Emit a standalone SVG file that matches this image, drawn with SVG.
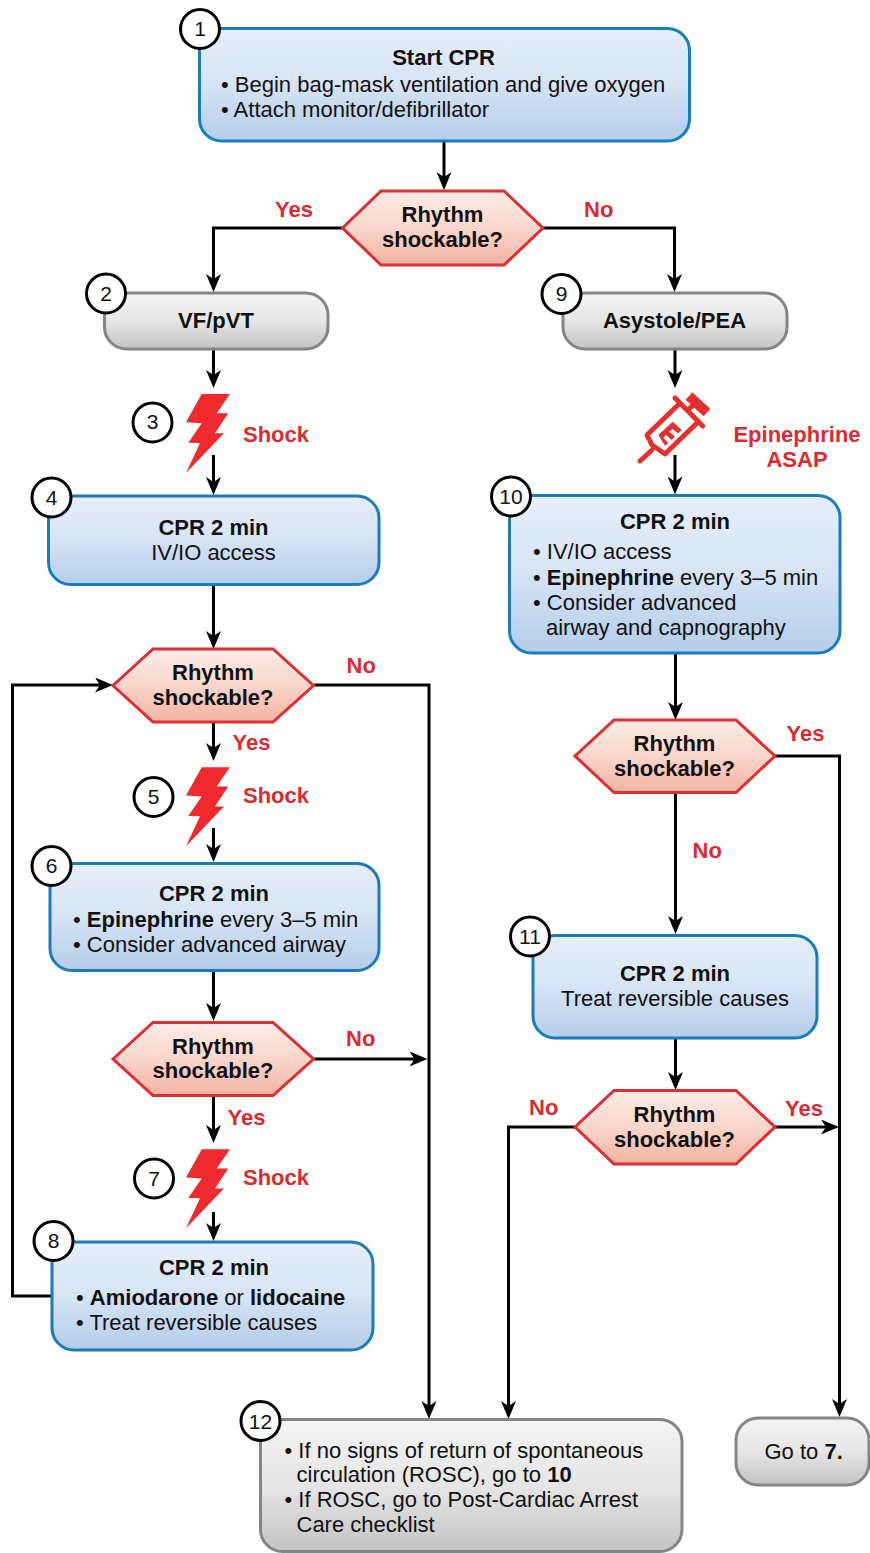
<svg xmlns="http://www.w3.org/2000/svg" width="870" height="1553" viewBox="0 0 870 1553">
<style>
text{font-family:"Liberation Sans",Arial,sans-serif;font-size:22px;fill:#111}
.b{font-weight:700}
.c{text-anchor:middle}
.r{font-weight:700;fill:#dd2a30}
.blue{fill:url(#gb);stroke:#1a7dbb;stroke-width:3}
.gray{fill:url(#gg);stroke:#858585;stroke-width:3}
.hex{fill:url(#gr);stroke:#dc2e33;stroke-width:3}
.num{fill:#fff;stroke:#000;stroke-width:3}
.con{fill:none;stroke:#000;stroke-width:3}
.bolt{fill:#ee2a2e}
.syr{fill:none;stroke:#e5302f;stroke-width:5;stroke-linecap:round;stroke-linejoin:round}
.digit{font-size:21px}
</style>
<defs>
<linearGradient id="gb" x1="0" y1="0" x2="0" y2="1"><stop offset="0" stop-color="#e6effa"/><stop offset=".5" stop-color="#d6e4f5"/><stop offset="1" stop-color="#b4cdea"/></linearGradient>
<linearGradient id="gg" x1="0" y1="0" x2="0" y2="1"><stop offset="0" stop-color="#f4f4f4"/><stop offset=".5" stop-color="#e6e6e6"/><stop offset="1" stop-color="#c3c3c3"/></linearGradient>
<linearGradient id="gr" x1="0" y1="0" x2="0" y2="1"><stop offset="0" stop-color="#fdece6"/><stop offset=".5" stop-color="#fad6cb"/><stop offset="1" stop-color="#f3b3a3"/></linearGradient>
<marker id="a" markerUnits="userSpaceOnUse" markerWidth="19" markerHeight="16" refX="14" refY="7.5" orient="auto"><path d="M0 0L18 7.5L0 15L5 7.5Z" fill="#000"/></marker>
<path id="bolt" d="M201.7 394H230L216.7 413.3H228.3L215 433.3H224L186 473L200 443L188.3 442.7L201.7 423.3L186 422.3Z"/>
</defs>
<g id="connectors" class="con">
<path marker-end="url(#a)" d="M444 141V186"/>
<path marker-end="url(#a)" d="M343 228H213.5V288"/>
<path marker-end="url(#a)" d="M543 228H674.5V288"/>
<path marker-end="url(#a)" d="M213.5 349V384"/>
<path marker-end="url(#a)" d="M213.5 455V491"/>
<path marker-end="url(#a)" d="M213.5 584V645"/>
<path marker-end="url(#a)" d="M314 685H429V1415"/>
<path marker-end="url(#a)" d="M52 1296H12.5V685H109"/>
<path marker-end="url(#a)" d="M213.5 722V757"/>
<path marker-end="url(#a)" d="M213.5 828V858"/>
<path marker-end="url(#a)" d="M213.5 970V1017"/>
<path marker-end="url(#a)" d="M314 1059H423.5"/>
<path marker-end="url(#a)" d="M213.5 1096V1139"/>
<path marker-end="url(#a)" d="M213.5 1212V1237"/>
<path marker-end="url(#a)" d="M675 349V384"/>
<path marker-end="url(#a)" d="M675 455V490.5"/>
<path marker-end="url(#a)" d="M675.5 653V716"/>
<path marker-end="url(#a)" d="M775 756H839.5V1413"/>
<path marker-end="url(#a)" d="M675.5 793V930"/>
<path marker-end="url(#a)" d="M675.5 1038V1086"/>
<path marker-end="url(#a)" d="M575 1127H508.5V1415"/>
<path marker-end="url(#a)" d="M775 1127H835"/>
</g>
<g id="n1"><rect class="blue" x="199.5" y="28.5" width="490" height="112.5" rx="22"/><circle class="num" cx="200" cy="29" r="19.5"/><text class="c digit" x="200" y="36">1</text>
<text class="b c" x="443.5" y="65">Start CPR</text><text x="221" y="91.5">• Begin bag-mask ventilation and give oxygen</text><text x="221" y="116.5">• Attach monitor/defibrillator</text></g>
<g id="d1"><polygon class="hex" points="342.5,228 381,191 504,191 543,228 504,265 381,265"/><text class="b c" x="442.5" y="221.5">Rhythm</text><text class="b c" x="442.5" y="246.5">shockable?</text></g>
<text class="r" x="275" y="216.5">Yes</text><text class="r" x="584" y="216.5">No</text>
<g id="n2"><rect class="gray" x="104.5" y="293" width="223.5" height="56" rx="22"/><circle class="num" cx="106" cy="293.5" r="19.5"/><text class="c digit" x="106" y="301">2</text><text class="b c" x="216" y="328">VF/pVT</text></g>
<g id="n9"><rect class="gray" x="563" y="293" width="224" height="56" rx="22"/><circle class="num" cx="561.5" cy="294" r="19.5"/><text class="c digit" x="561.5" y="301">9</text><text class="b c" x="674.5" y="328">Asystole/PEA</text></g>
<g id="n3"><use href="#bolt" class="bolt"/><circle class="num" cx="152.5" cy="422.5" r="19.5"/><text class="c digit" x="152.5" y="429">3</text><text class="r" x="243" y="441.5">Shock</text></g>
<g id="n4"><rect class="blue" x="48.5" y="496" width="330.5" height="88.5" rx="22"/><circle class="num" cx="51.5" cy="497.5" r="19.5"/><text class="c digit" x="51.5" y="505">4</text><text class="b c" x="213.5" y="535">CPR 2 min</text><text class="c" x="213.5" y="560">IV/IO access</text></g>
<g id="d2"><polygon class="hex" points="113,685.5 153,649 273,649 313.5,685.5 273,722 153,722"/><text class="b c" x="213" y="680">Rhythm</text><text class="b c" x="213" y="704.5">shockable?</text></g>
<text class="r" x="346.5" y="672.5">No</text><text class="r" x="232.5" y="750">Yes</text>
<g id="n5"><use href="#bolt" class="bolt" y="373.3"/><circle class="num" cx="153.5" cy="797" r="19.5"/><text class="c digit" x="153.5" y="804">5</text><text class="r" x="243" y="803">Shock</text></g>
<g id="n6"><rect class="blue" x="50" y="863.5" width="329" height="107" rx="22"/><circle class="num" cx="51.5" cy="866" r="19.5"/><text class="c digit" x="51.5" y="873">6</text><text class="b c" x="214" y="901">CPR 2 min</text><text x="73" y="926.5">• <tspan class="b">Epinephrine</tspan> every 3–5 min</text><text x="73" y="951.5">• Consider advanced airway</text></g>
<g id="d3"><polygon class="hex" points="113,1059 153,1022.5 273,1022.5 313.5,1059 273,1095.5 153,1095.5"/><text class="b c" x="213" y="1053.5">Rhythm</text><text class="b c" x="213" y="1078">shockable?</text></g>
<text class="r" x="346" y="1045.5">No</text><text class="r" x="227.5" y="1125">Yes</text>
<g id="n7"><use href="#bolt" class="bolt" y="755.3"/><circle class="num" cx="154" cy="1178.5" r="19.5"/><text class="c digit" x="154" y="1185.5">7</text><text class="r" x="243" y="1185">Shock</text></g>
<g id="n8"><rect class="blue" x="52" y="1242" width="321" height="108" rx="22"/><circle class="num" cx="53.5" cy="1241" r="19.5"/><text class="c digit" x="53.5" y="1248">8</text><text class="b c" x="214" y="1274.5">CPR 2 min</text><text x="76" y="1305">• <tspan class="b">Amiodarone</tspan> or <tspan class="b">lidocaine</tspan></text><text x="76" y="1330">• Treat reversible causes</text></g>
<g id="syringe"><path class="syr" d="M675 398L702.7 426M679 404L647 435L652 445L665 454L698 422M690 408L695 404M640 461L652 450"/><path class="syr" style="stroke-width:10;stroke-linecap:butt" d="M689 396L707 412.7"/><path fill="#e5302f" d="M658.3 435L672.7 421.7L681.7 430L677.7 433.3L672.7 429L669.3 431.7L675 436.7L671.7 440L666 435L663.3 437.7L668.3 443.3L665 445.7Z"/><text class="r c" x="797" y="441.5">Epinephrine</text><text class="r c" x="797" y="466.5">ASAP</text></g>
<g id="n10"><rect class="blue" x="509.5" y="495.5" width="330.5" height="157.5" rx="22"/><circle class="num" cx="511" cy="496.5" r="19.5"/><text class="c digit" x="511" y="503.5">10</text><text class="b c" x="675" y="529">CPR 2 min</text><text x="533" y="559">• IV/IO access</text><text x="533" y="585">• <tspan class="b">Epinephrine</tspan> every 3–5 min</text><text x="533" y="609.5">• Consider advanced</text><text x="546" y="634.5">airway and capnography</text></g>
<g id="d4"><polygon class="hex" points="575,756 614,720 736,720 775,756 736,792.5 614,792.5"/><text class="b c" x="674.5" y="751">Rhythm</text><text class="b c" x="674.5" y="776">shockable?</text></g>
<text class="r" x="786.5" y="740.5">Yes</text><text class="r" x="692.5" y="857.5">No</text>
<g id="n11"><rect class="blue" x="533" y="935.5" width="284" height="102.5" rx="22"/><circle class="num" cx="530" cy="936.5" r="19.5"/><text class="c digit" x="530" y="944">11</text><text class="b c" x="675" y="981">CPR 2 min</text><text class="c" x="675" y="1006">Treat reversible causes</text></g>
<g id="d5"><polygon class="hex" points="575,1127 614,1090.5 736,1090.5 775,1127 736,1164 614,1164"/><text class="b c" x="674.5" y="1121.5">Rhythm</text><text class="b c" x="674.5" y="1146.5">shockable?</text></g>
<text class="r" x="529" y="1115">No</text><text class="r" x="785" y="1115.5">Yes</text>
<g id="n12"><rect class="gray" x="260.5" y="1419.5" width="421.5" height="132" rx="22"/><circle class="num" cx="260.5" cy="1421" r="19.5"/><text class="c digit" x="260.5" y="1428.5">12</text><text x="284.5" y="1457.5">• If no signs of return of spontaneous</text><text x="296.5" y="1481.5">circulation (ROSC), go to <tspan class="b">10</tspan></text><text x="284.5" y="1506.5">• If ROSC, go to Post-Cardiac Arrest</text><text x="296.5" y="1531.5">Care checklist</text></g>
<g id="n13"><rect class="gray" x="736" y="1418" width="133" height="67" rx="22"/><text x="764.5" y="1458.5">Go to <tspan class="b">7.</tspan></text></g>
</svg>
